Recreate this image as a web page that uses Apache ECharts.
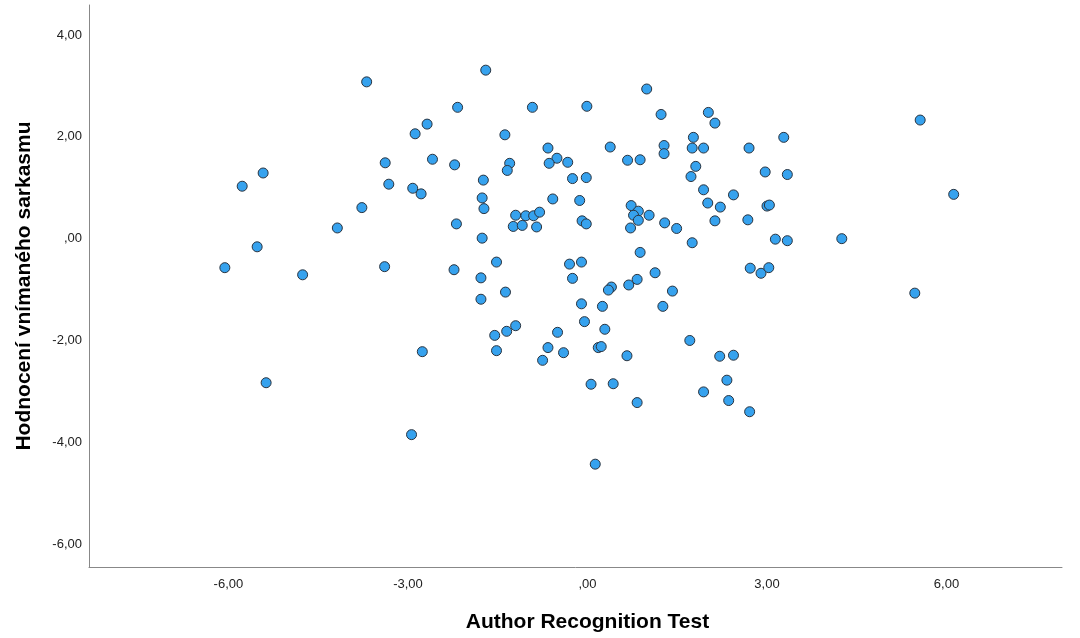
<!DOCTYPE html>
<html>
<head>
<meta charset="utf-8">
<script src="https://cdn.jsdelivr.net/npm/echarts@6/dist/echarts.min.js"></script>
<style>
  html, body { margin: 0; padding: 0; background: #ffffff; }
  #chart { width: 1080px; height: 638px; }
</style>
</head>
<body>
<div id="chart"></div>
<script>
// Author Recognition Test score (x) for each respondent
const artScores = [
  -6.06, -5.77, -5.42, -5.52, -5.37, -4.76, -4.18, -3.77, -3.69, -3.38,
  -3.32, -3.39, -2.94, -2.92, -2.88, -2.78, -2.76, -2.68, -2.59, -2.23,
  -2.22, -2.19, -2.17,
  -1.70, -0.92, -0.01, 0.99, 1.23, -1.38, -0.66, 0.38, 1.28, 1.28,
  -1.30, -1.34, -0.51, -0.64, -0.33, 0.67, 0.88, -1.74, -0.25, -0.02,
  -1.76, -0.58, -0.13, -1.73, 0.73, 0.85, 0.77, 0.85, 1.03, -1.20,
  -1.03, -0.90, -0.80, -1.24, -1.09, -0.85, -0.09, -0.02, 0.72, 1.29,
  1.49, -1.76, 0.88, -1.52, -0.30, -0.10, -1.78, -0.25, 1.13, 0.83,
  0.69, 0.40, 0.35, 1.42, -1.37, -1.78, -0.10, 0.25, 1.26, -0.05,
  0.29, -1.20, -1.35, -1.55, -1.52, -0.50, -0.66, -0.40, -0.75, 0.18,
  0.23, 0.66, 0.06, 0.43, 0.83, 0.13,
  2.02, 2.13, 1.77, 1.75, 1.94, 3.28, 2.70, 1.81, 1.73, 2.97,
  3.34, 1.94, 2.44, 2.01, 2.22, 3.00, 3.04, 2.13, 2.68, 1.75,
  3.14, 3.34, 4.25, 5.56, 6.12, 2.72, 2.90, 3.03, 5.47, 1.71,
  2.21, 2.44, 2.33, 1.94, 2.36, 2.71
];

// Perceived sarcasm rating (y) for the same respondents
const sarcasmRatings = [
  -0.57, 1.03, 1.29, -0.16, -2.83, -0.71, 0.21, 0.61, 3.08, 1.49,
  1.07, -0.55, -3.85, 0.99, 2.06, 0.88, -2.22, 2.25, 1.56, -0.61,
  1.45, 0.29, 2.58,
  3.31, 2.58, 2.60, 2.94, 2.44, 2.04, 1.78, 1.80, 1.83, 1.67,
  1.48, 1.34, 1.58, 1.48, 1.50, 1.54, 1.55, 1.15, 1.18, 1.20,
  0.80, 0.78, 0.75, 0.59, 0.65, 0.54, 0.46, 0.36, 0.46, 0.46,
  0.45, 0.45, 0.52, 0.24, 0.26, 0.23, 0.35, 0.29, 0.21, 0.31,
  0.20, 0.01, -0.27, -0.46, -0.50, -0.46, -0.77, -0.78, -0.67, -0.80,
  -0.91, -0.95, -1.01, -1.03, -1.05, -1.19, -1.28, -1.33, -1.33, -1.63,
  -1.78, -1.71, -1.82, -1.90, -2.20, -1.84, -2.14, -2.24, -2.39, -2.14,
  -2.12, -2.30, -2.86, -2.85, -3.22, -4.43,
  2.48, 2.27, 1.99, 1.78, 1.78, 1.99, 1.78, 1.42, 1.22, 1.31,
  1.26, 0.96, 0.86, 0.70, 0.62, 0.64, 0.66, 0.35, 0.37, -0.08,
  -0.01, -0.04, 0.00, 2.33, 0.87, -0.58, -0.68, -0.57, -1.07, -2.00,
  -2.31, -2.29, -2.78, -3.01, -3.18, -3.40
];

// Tick values shown on each axis
const xTickValues = [-6, -3, 0, 3, 6];
const yTickValues = [-6, -4, -2, 0, 2, 4];

const points = artScores.map((x, i) => [x, sarcasmRatings[i]]);

// Decimal comma, leading zero dropped for zero (",00")
function fmt(v) {
  if (Math.abs(v) < 1e-9) return ',00';
  return v.toFixed(2).replace('.', ',');
}

const fontFamily = '"Liberation Sans", Arial, sans-serif';

const chart = echarts.init(document.getElementById('chart'), null, { renderer: 'canvas' });
chart.setOption({
  backgroundColor: '#ffffff',
  animation: false,
  grid: { left: 89, right: 18, top: 5, bottom: 70, containLabel: false },
  xAxis: {
    type: 'value',
    min: -8.33,
    max: 7.93,
    name: 'Author Recognition Test',
    nameLocation: 'middle',
    nameGap: 45,
    nameTextStyle: {
      fontFamily, fontSize: 21, fontWeight: 'bold', color: '#000',
      padding: [0, 0, 0, 24]
    },
    axisLine: { show: true, onZero: false, lineStyle: { color: '#888', width: 1 } },
    axisTick: { show: false },
    splitLine: { show: false },
    axisLabel: {
      customValues: xTickValues,
      formatter: fmt,
      margin: 11,
      fontFamily, fontSize: 13, color: '#222'
    }
  },
  yAxis: {
    type: 'value',
    min: -6.45,
    max: 4.59,
    name: 'Hodnocení vnímaného sarkasmu',
    nameLocation: 'middle',
    nameGap: 54,
    nameTextStyle: { fontFamily, fontSize: 21, fontWeight: 'bold', color: '#000' },
    axisLine: { show: true, onZero: false, lineStyle: { color: '#888', width: 1 } },
    axisTick: { show: false },
    splitLine: { show: false },
    axisLabel: {
      customValues: yTickValues,
      formatter: fmt,
      margin: 7,
      fontFamily, fontSize: 13, color: '#222'
    }
  },
  series: [{
    type: 'scatter',
    data: points,
    symbol: 'circle',
    symbolSize: 10,
    itemStyle: { color: '#36a2ee', borderColor: '#2a3440', borderWidth: 1, opacity: 1 }
  }]
});
</script>
</body>
</html>
